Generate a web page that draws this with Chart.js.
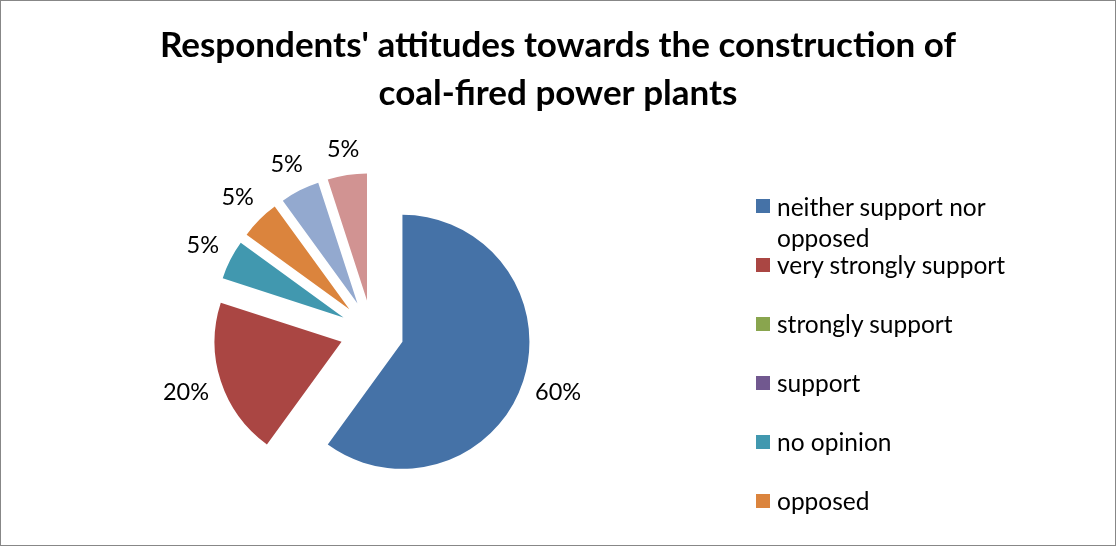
<!DOCTYPE html>
<html>
<head>
<meta charset="utf-8">
<script src="https://cdn.jsdelivr.net/npm/chart.js@4.4.1/dist/chart.umd.min.js"></script>
<style>
body { margin: 0; background: #fff; }
#wrap { position: relative; width: 1116px; height: 546px; }
#frame { position: absolute; left: 0; top: 0; width: 1116px; height: 546px; box-sizing: border-box; border: 1px solid #878787; pointer-events: none; }
#legend { position: absolute; left: 756px; top: 0; font-family: Lato, sans-serif; font-size: 24.5px; color: #000; }
.item { position: absolute; left: 0; width: 340px; display: flex; align-items: flex-start; }
.box { width: 14px; height: 14px; margin-top: 8.5px; margin-right: 7px; flex: none; }
.text { width: 250px; line-height: 31px; white-space: normal; }
</style>
</head>
<body>
<div id="wrap">
  <canvas id="mychart" width="1116" height="546"></canvas>
  <div id="legend"></div>
  <div id="frame"></div>
</div>
<script>
var titleLines = ["Respondents' attitudes towards the construction of", 'coal-fired power plants']
var labels = ['neither support nor opposed', 'very strongly support', 'strongly support', 'support', 'no opinion', 'opposed', 'strongly opposed', 'very strongly opposed']
var values = [60, 20, 0, 0, 5, 5, 5, 5]
var colors = ['#4572A7', '#AA4643', '#89A54E', '#71588F', '#4198AF', '#DB843D', '#93A9CF', '#D19392']
// the legend in the picture is cut after the 6th entry
var legendCount = 6

var explode = 32      // how far every slice is pulled out (px)
var pieRadius = 127
var legendRoom = 372  // right side kept free for the legend

var total = values.reduce(function (s, v) { return s + v }, 0)

// keep the right part of the canvas for the legend, so the pie sits left
var sideRoom = {
    id: 'sideRoom',
    afterLayout: function (chart) {
        var a = chart.chartArea
        a.right = a.right - legendRoom
        a.width = a.right - a.left
    }
}

// exploded pie: draw each arc moved out along its middle angle
var explodeArcs = {
    id: 'explodeArcs',
    beforeDatasetDraw: function (chart, args) {
        var ctx = chart.ctx
        args.meta.data.forEach(function (arc) {
            var p = arc.getProps(['startAngle', 'endAngle'], true)
            var mid = (p.startAngle + p.endAngle) / 2
            ctx.save()
            ctx.translate(Math.cos(mid) * explode, Math.sin(mid) * explode)
            arc.draw(ctx)
            ctx.restore()
        })
        return false
    }
}

// percentage labels outside every slice
var pctLabels = {
    id: 'pctLabels',
    afterDatasetsDraw: function (chart) {
        var ctx = chart.ctx
        var meta = chart.getDatasetMeta(0)
        ctx.save()
        ctx.font = '23.5px Lato'
        ctx.fillStyle = '#000'
        ctx.textAlign = 'center'
        ctx.textBaseline = 'middle'
        meta.data.forEach(function (arc, i) {
            if (!values[i]) return
            var p = arc.getProps(['x', 'y', 'startAngle', 'endAngle', 'outerRadius'], true)
            var mid = (p.startAngle + p.endAngle) / 2
            var text = Math.round(values[i] / total * 100) + '%'
            var w = ctx.measureText(text).width
            var d = explode + p.outerRadius + 11 + Math.abs(Math.cos(mid)) * w / 2 + Math.abs(Math.sin(mid)) * 12
            ctx.fillText(text, p.x + Math.cos(mid) * d, p.y + Math.sin(mid) * d)
        })
        ctx.restore()
    }
}

var ctx = document.getElementById('mychart').getContext('2d')
var piechart = new Chart(ctx, {
    type: 'pie',
    data: {
        labels: labels,
        datasets: [{
            data: values,
            backgroundColor: colors,
            borderWidth: 0
        }]
    },
    options: {
        responsive: false,
        animation: false,
        radius: pieRadius,
        events: [],
        layout: { padding: 0 },
        plugins: {
            legend: { display: false },
            tooltip: { enabled: false },
            title: {
                display: true,
                text: titleLines,
                color: '#000',
                font: { family: 'Lato', size: 35, weight: 'bold', lineHeight: 1.371 },
                padding: { top: 22, bottom: 0 }
            }
        }
    },
    plugins: [sideRoom, explodeArcs, pctLabels]
})

// legend, as html
var legend = document.getElementById('legend')
for (var i = 0; i < legendCount; i++) {
    var item = document.createElement('div')
    item.className = 'item'
    item.style.top = (190.5 + i * 58.9) + 'px'
    var box = document.createElement('div')
    box.className = 'box'
    box.style.background = colors[i]
    var txt = document.createElement('div')
    txt.className = 'text'
    txt.textContent = labels[i]
    item.appendChild(box)
    item.appendChild(txt)
    legend.appendChild(item)
}
</script>
</body>
</html>
